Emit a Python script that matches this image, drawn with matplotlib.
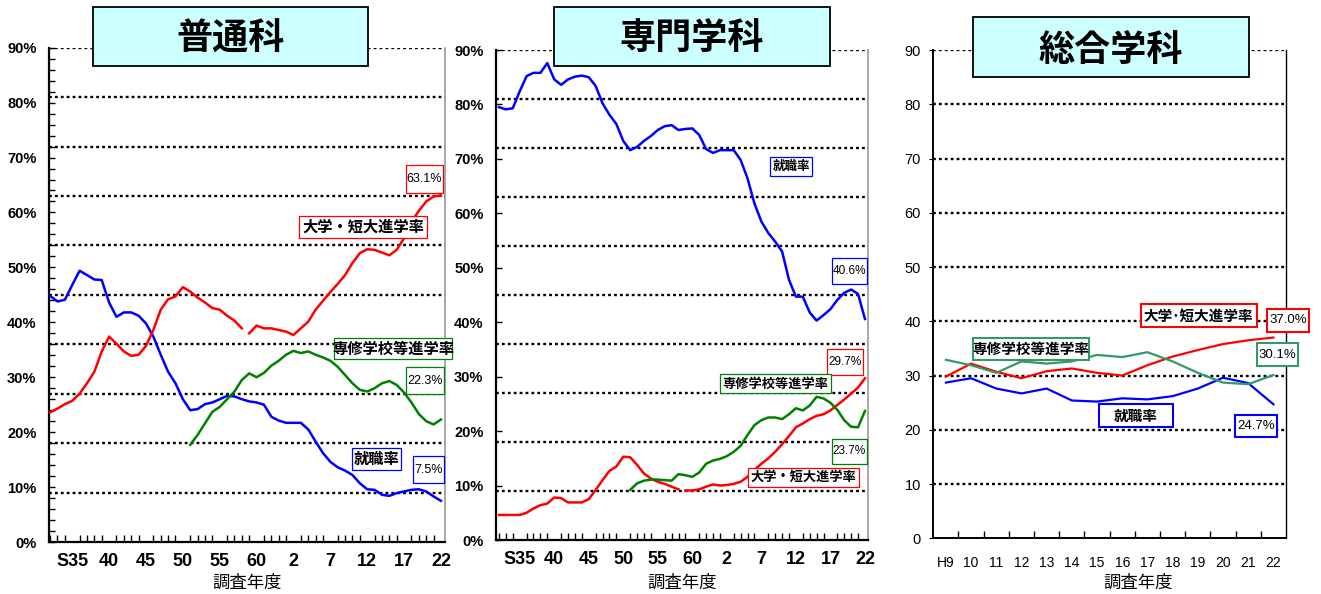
import matplotlib
matplotlib.use("Agg")
import matplotlib.pyplot as plt
from matplotlib.patches import Rectangle
import numpy as np

plt.rcParams['font.family'] = ['Liberation Sans', 'Noto Sans CJK JP', 'DejaVu Sans']
JP = ['Noto Sans CJK JP', 'DejaVu Sans']

# 昭和32年(1957)〜平成22年(2010)
years = list(range(1957, 2011))
years_old = list(range(1957, 1984))
years_new = list(range(1984, 2011))
years_sen = list(range(1976, 2011))
tick_years = [1960, 1965, 1970, 1975, 1980, 1985, 1990, 1995, 2000, 2005, 2010]
tick_labels = ['S35', '40', '45', '50', '55', '60', '2', '7', '12', '17', '22']

# 普通科
futsu_shushoku = [44.8, 43.8, 44.1, 46.8, 49.4, 48.6, 47.8, 47.7, 43.6, 41.0,
                  41.8, 41.8, 41.2, 39.8, 37.4, 34.1, 31.0, 28.9, 26.0, 24.0,
                  24.2, 25.1, 25.4, 26.0, 26.6, 26.5, 26.0, 25.6, 25.4, 25.0,
                  22.8, 22.1, 21.7, 21.7, 21.7, 20.5, 18.3, 16.2, 14.6, 13.6,
                  13.0, 12.2, 10.7, 9.6, 9.5, 8.6, 8.4, 8.9, 9.2, 9.5,
                  9.6, 9.2, 8.3, 7.5]
futsu_daigaku_old = [23.6, 24.3, 25.1, 25.7, 27.0, 28.9, 31.0, 34.7, 37.4, 36.1,
                     34.7, 33.9, 34.1, 35.7, 38.6, 42.3, 44.2, 44.7, 46.4, 45.6,
                     44.5, 43.6, 42.6, 42.3, 41.2, 40.3, 38.9]
futsu_daigaku_new = [38.0, 39.4, 38.9, 38.9, 38.6, 38.3, 37.7, 38.9, 40.1, 42.3,
                     43.9, 45.5, 47.0, 48.6, 50.8, 52.6, 53.3, 53.2, 52.7, 52.2,
                     53.2, 55.3, 58.3, 60.3, 62.0, 62.9, 63.1]
futsu_senshu = [17.7, 19.5, 21.6, 23.7, 24.6, 26.0, 27.4, 29.5, 30.7, 30.0,
                30.8, 32.1, 33.0, 34.1, 34.8, 34.4, 34.7, 34.1, 33.6, 33.0,
                31.9, 30.4, 28.9, 27.7, 27.4, 28.0, 28.9, 29.3, 28.6, 27.2,
                25.4, 23.3, 22.0, 21.4, 22.3]

# 専門学科
senmon_shushoku = [79.5, 79.1, 79.3, 82.4, 85.2, 85.8, 85.8, 87.6, 84.6, 83.6,
                   84.6, 85.1, 85.3, 85.0, 83.4, 80.2, 78.1, 76.4, 73.3, 71.6,
                   72.2, 73.3, 74.2, 75.3, 76.0, 76.2, 75.3, 75.5, 75.6, 74.4,
                   71.8, 71.1, 71.6, 71.6, 71.6, 69.8, 66.4, 61.8, 58.5, 56.4,
                   54.8, 53.0, 47.8, 44.7, 44.7, 41.8, 40.3, 41.3, 42.4, 44.1,
                   45.4, 46.0, 45.2, 40.6]
senmon_daigaku_old = [4.6, 4.6, 4.6, 4.6, 5.0, 5.8, 6.4, 6.7, 7.8, 7.7,
                      6.9, 6.9, 6.9, 7.5, 9.2, 11.0, 12.7, 13.5, 15.3, 15.2,
                      13.8, 12.2, 11.3, 10.7, 10.3, 9.8, 9.3]
senmon_daigaku_new = [9.1, 9.1, 9.3, 9.8, 10.2, 10.0, 10.1, 10.3, 10.7, 11.6,
                      12.9, 14.0, 15.0, 16.2, 17.6, 19.1, 20.7, 21.4, 22.2, 22.8,
                      23.1, 23.8, 24.8, 25.8, 26.9, 28.0, 29.7]
senmon_senshu = [9.2, 10.4, 10.9, 11.1, 11.1, 11.0, 10.9, 12.1, 11.9, 11.6,
                 12.4, 14.0, 14.6, 14.9, 15.4, 16.2, 17.3, 19.3, 21.1, 22.0,
                 22.5, 22.5, 22.2, 23.1, 24.2, 23.8, 24.7, 26.3, 26.0, 25.2,
                 23.9, 22.0, 20.8, 20.7, 23.7]

# 総合学科
sogo_years = ['H9', '10', '11', '12', '13', '14', '15', '16', '17', '18', '19', '20', '21', '22']
sogo_daigaku = [29.8, 32.2, 30.7, 29.5, 30.8, 31.3, 30.5, 30.0, 31.9, 33.5, 34.7, 35.8, 36.5, 37.0]
sogo_senshu = [32.9, 31.9, 30.5, 32.6, 32.2, 32.6, 33.8, 33.4, 34.3, 32.6, 30.5, 28.7, 28.4, 30.1]
sogo_shushoku = [28.7, 29.5, 27.6, 26.7, 27.6, 25.4, 25.2, 25.8, 25.6, 26.2, 27.6, 29.6, 28.6, 24.7]

W, H = 1321, 594
fig = plt.figure(figsize=(W / 100, H / 100), dpi=100)

def rect(x0, y0, x1, y1):
    # pixel box (top-left origin) -> figure fraction
    return [x0 / W, 1 - y1 / H, (x1 - x0) / W, (y1 - y0) / H]

dot = (0, (1.2, 1.3))
RED, BLUE, GREEN = '#ff0000', '#0000ff', '#008000'
GREEN2 = '#339966'

def style_year_axis(ax, xlim, minor_y):
    ax.set_xlim(*xlim)
    ax.set_ylim(0, 90)
    for v in range(9, 91, 9):
        ax.axhline(v, color='black', lw=1.7, ls=dot, zorder=1)
    ax.spines['top'].set_visible(False)
    ax.spines['left'].set_linewidth(1.6)
    ax.spines['bottom'].set_linewidth(1.6)
    ax.spines['right'].set_color('#999999')
    ax.spines['right'].set_linewidth(1.2)
    ax.set_yticks(range(0, 91, 10))
    ax.set_yticklabels([f'{v}%' for v in range(0, 91, 10)])
    if minor_y:
        ax.set_yticks(range(0, 91, 2), minor=True)
    ax.set_xticks(tick_years)
    ax.set_xticklabels(tick_labels)
    ax.set_xticks(years, minor=True)
    ax.tick_params(axis='y', which='both', direction='in', length=4, width=1,
                   pad=9, labelsize=10.5)
    ax.tick_params(axis='x', which='both', direction='in', length=5, width=1,
                   pad=8)
    ax.tick_params(axis='x', which='major', length=0, labelsize=13)
    for t in ax.get_yticklabels() + ax.get_xticklabels():
        t.set_fontweight('bold')

# 普通科
ax1 = fig.add_axes(rect(49, 47.7, 445, 542))
ax1.plot(years, futsu_shushoku, color=BLUE, lw=1.8, zorder=3)
ax1.plot(years_old, futsu_daigaku_old, color=RED, lw=1.8, zorder=3)
ax1.plot(years_new, futsu_daigaku_new, color=RED, lw=1.8, zorder=3)
ax1.plot(years_sen, futsu_senshu, color=GREEN, lw=1.8, zorder=3)
style_year_axis(ax1, (1956.85, 2010.55), True)

# 専門学科
ax2 = fig.add_axes(rect(496, 50, 867.7, 540))
ax2.plot(years, senmon_shushoku, color=BLUE, lw=1.8, zorder=3)
ax2.plot(years_old, senmon_daigaku_old, color=RED, lw=1.8, zorder=3)
ax2.plot(years_new, senmon_daigaku_new, color=RED, lw=1.8, zorder=3)
ax2.plot(years_sen, senmon_senshu, color=GREEN, lw=1.8, zorder=3)
style_year_axis(ax2, (1956.57, 2010.4), False)

# 総合学科
ax3 = fig.add_axes(rect(933.3, 50, 1286, 538.3))
xs = np.arange(len(sogo_years))
ax3.plot(xs, sogo_shushoku, color=BLUE, lw=1.6, zorder=3)
ax3.plot(xs, sogo_daigaku, color=RED, lw=1.6, zorder=3)
ax3.plot(xs, sogo_senshu, color=GREEN2, lw=1.6, zorder=3)
ax3.set_xlim(-0.5, len(sogo_years) - 0.5)
ax3.set_ylim(0, 90)
for v in range(10, 91, 10):
    ax3.axhline(v, color='black', lw=1.7, ls=dot, zorder=1)
ax3.spines['top'].set_visible(False)
for s in ['left', 'bottom']:
    ax3.spines[s].set_linewidth(1.4)
ax3.spines['right'].set_linewidth(1.0)
ax3.set_yticks(range(0, 91, 10))
ax3.set_xticks(xs)
ax3.set_xticklabels(sogo_years)
ax3.set_xticks(xs[:-1] + 0.5, minor=True)
ax3.tick_params(axis='y', direction='out', length=3, pad=6, labelsize=10.5)
ax3.tick_params(axis='x', which='major', length=0, pad=13, labelsize=10)
ax3.tick_params(axis='x', which='minor', direction='in', length=5, width=1)

# x軸タイトル
for cx in (247, 682, 1138):
    fig.text(cx / W, 1 - 583 / H, '調査年度', ha='center', va='center',
             fontsize=12.5, family=JP)

def box(x0, y0, x1, y1, text, edge, size, weight='bold', lw=0.9,
        face='white', family=JP, dy=0):
    r = Rectangle((x0 / W, 1 - y1 / H), (x1 - x0) / W, (y1 - y0) / H,
                  transform=fig.transFigure, facecolor=face, edgecolor=edge,
                  lw=lw, zorder=5)
    fig.add_artist(r)
    t = fig.text((x0 + x1) / 2 / W, 1 - ((y0 + y1) / 2 + dy) / H, text,
                 ha='center', va='center', fontsize=size, fontweight=weight,
                 family=family, color='black', zorder=6)
    return t

# タイトル
box(93, 7, 368, 66, '普通科', 'black', 26, lw=1.3, face='#ccffff', dy=3)
box(554, 7, 830, 66, '専門学科', 'black', 26, lw=1.3, face='#ccffff', dy=3)
box(973, 17, 1249, 77, '総合学科', 'black', 26, lw=1.3, face='#ccffff', dy=3)

NUM = ['Liberation Sans', 'DejaVu Sans']

# 普通科のラベル
box(405.7, 165, 443.3, 192.7, '63.1%', RED, 9, 'normal', family=NUM)
box(299, 216, 427.3, 238.3, '大学・短大進学率', RED, 11)
box(334.3, 338.3, 451.7, 359.3, '専修学校等進学率', GREEN, 11)
box(406, 367.3, 444, 394.3, '22.3%', GREEN, 9, 'normal', family=NUM)
box(351.7, 447.7, 400.7, 470, '就職率', BLUE, 11)
box(413.3, 456, 444, 483.3, '7.5%', BLUE, 9, 'normal', family=NUM)

# 専門学科のラベル
box(770, 156.7, 812.3, 176, '就職率', BLUE, 9)
box(832.3, 258.3, 866.7, 284.3, '40.6%', BLUE, 8.5, 'normal', family=NUM)
box(827.3, 349.3, 862.7, 375, '29.7%', RED, 8.5, 'normal', family=NUM)
box(720, 374.3, 830.7, 393.3, '専修学校等進学率', GREEN, 9.5)
box(831.7, 439, 866.7, 464, '23.7%', GREEN, 8.5, 'normal', family=NUM)
box(748.3, 467.7, 859, 486.7, '大学・短大進学率', RED, 9.5)

# 総合学科のラベル
box(1140.7, 304, 1256.7, 326.7, '大学･短大進学率', RED, 10.5, lw=1.5)
box(1266.7, 309, 1309, 331.7, '37.0%', RED, 9.5, 'normal', lw=1.5, family=NUM)
box(972.7, 337.7, 1089.3, 360, '専修学校等進学率', GREEN2, 10.5, lw=1.5)
box(1256.7, 343.3, 1298.3, 365.7, '30.1%', GREEN2, 9.5, 'normal', lw=1.5, family=NUM)
box(1099.3, 404, 1172.7, 426.7, '就職率', BLUE, 10.5, lw=1.5)
box(1235, 415, 1277.3, 437.3, '24.7%', BLUE, 9.5, 'normal', lw=1.5, family=NUM)

fig.savefig('out.png', dpi=100)
